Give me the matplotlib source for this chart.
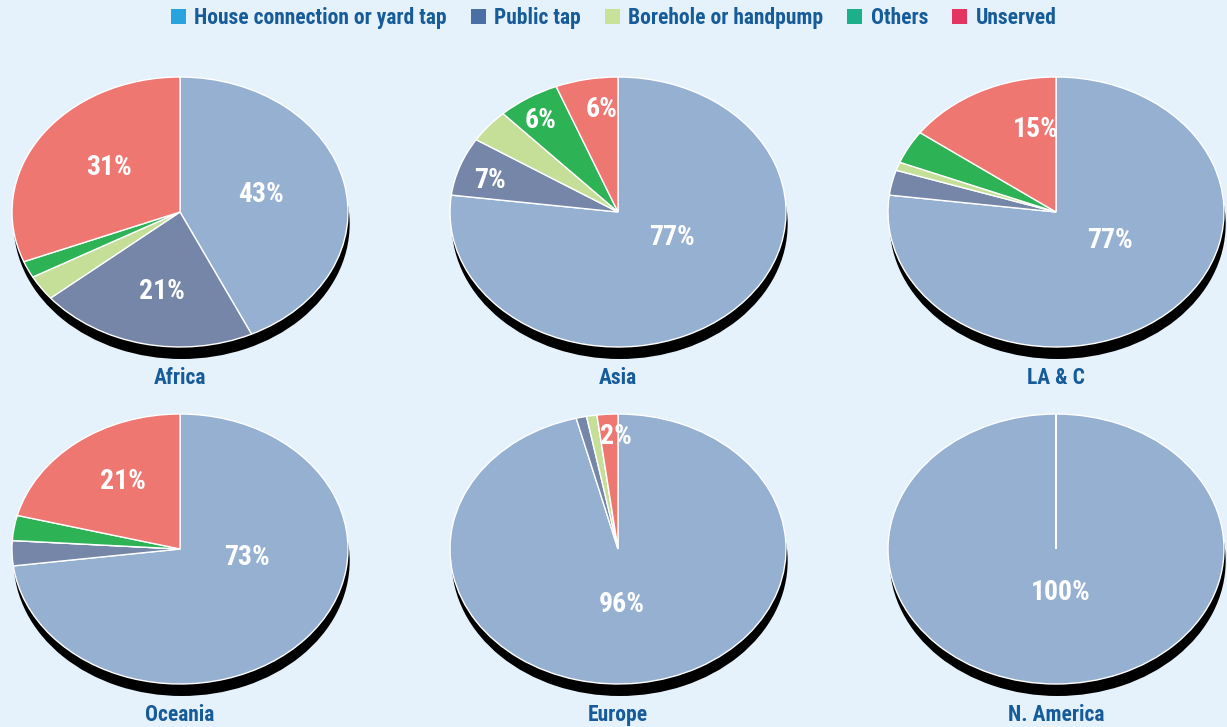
import numpy as np
import matplotlib.pyplot as plt
from matplotlib.patches import Patch
from matplotlib import font_manager

# sources of drinking water, share of population (%)
categories = ['House connection or yard tap', 'Public tap', 'Borehole or handpump', 'Others', 'Unserved']
regions = ['Africa', 'Asia', 'LA & C', 'Oceania', 'Europe', 'N. America']
africa = [43, 21, 3, 2, 31]
asia = [77, 7, 4, 6, 6]
lac = [77, 3, 1, 4, 15]
oceania = [73, 3, 0, 3, 21]
europe = [96, 1, 1, 0, 2]
namerica = [100, 0, 0, 0, 0]
shares = [africa, asia, lac, oceania, europe, namerica]

# which slices carry a percent label (index into categories)
labelled = [[0, 1, 4], [0, 1, 3, 4], [0, 4], [0, 4], [0, 4], [0]]
# label positions inside each pie, in units of the pie radii
label_xy = [
    [(0.48, 0.13), (-0.11, -0.59), (-0.42, 0.33)],
    [(0.32, -0.19), (-0.76, 0.23), (-0.46, 0.68), (-0.10, 0.76)],
    [(0.32, -0.21), (-0.12, 0.61)],
    [(0.40, -0.06), (-0.34, 0.50)],
    [(0.02, -0.41), (-0.01, 0.83)],
    [(0.03, -0.32)],
]

pie_colors = ['#96B0D2', '#7686A8', '#C6DF98', '#2DB356', '#EE7772']
legend_colors = ['#29A3DD', '#4A6FA5', '#C8E29A', '#1BB08A', '#E43462']
bg = '#E5F1FB'
navy = '#175C9A'

# a condensed bold face, if one is around
names = {f.name for f in font_manager.fontManager.ttflist}
font = ['DejaVu Sans']
for cand in ['Liberation Sans Narrow', 'Roboto Condensed', 'Open Sans Condensed', 'DejaVu Sans Condensed']:
    if cand in names:
        font = [cand, 'DejaVu Sans']
        break
stretch = 'condensed'

W, H = 1227, 727
fig = plt.figure(figsize=(W / 100, H / 100), dpi=100, facecolor=bg)

centres = [(180, 212), (618, 212), (1056, 212), (180, 549), (618, 549), (1056, 549)]
rx, ry = 168, 135
shadow = 12 / ry

for i, (cx, cy) in enumerate(centres):
    ax = fig.add_axes([(cx - rx) / W, 1 - (cy + ry) / H, 2 * rx / W, 2 * ry / H])
    ax.set_facecolor('none')
    # drop shadow
    ax.pie([1], colors=['black'], radius=1, center=(0.01, -shadow), startangle=90,
           wedgeprops=dict(linewidth=0), normalize=True)
    vals = shares[i]
    ax.pie(vals, colors=pie_colors, radius=1, center=(0, 0), startangle=90,
           counterclock=False, normalize=True,
           wedgeprops=dict(edgecolor='white', linewidth=1.0))
    ax.set_aspect('auto')
    ax.set_xlim(-1, 1)
    ax.set_ylim(-1, 1)
    for p in ax.patches:
        p.set_clip_on(False)
    for k, (lx, ly) in zip(labelled[i], label_xy[i]):
        ax.text(lx, ly, f'{vals[k]}%', ha='center', va='center', color='white',
                fontsize=20, fontweight='bold', family=font, fontstretch=stretch)
    fig.text(cx / W, 1 - (cy + 166) / H, regions[i], ha='center', va='center',
             color=navy, fontsize=15.5, fontweight='bold', family=font, fontstretch=stretch)

handles = [Patch(facecolor=c, edgecolor='none') for c in legend_colors]
fig.legend(handles, categories, loc='center', bbox_to_anchor=(0.5, 1 - 18 / H), ncol=5,
           frameon=False, handlelength=0.7, handleheight=0.7, handletextpad=0.4,
           columnspacing=1.1, labelcolor=navy,
           prop=dict(family=font, weight='bold', size=15.5, stretch=stretch))

fig.savefig('out.png', dpi=100, facecolor=bg)
